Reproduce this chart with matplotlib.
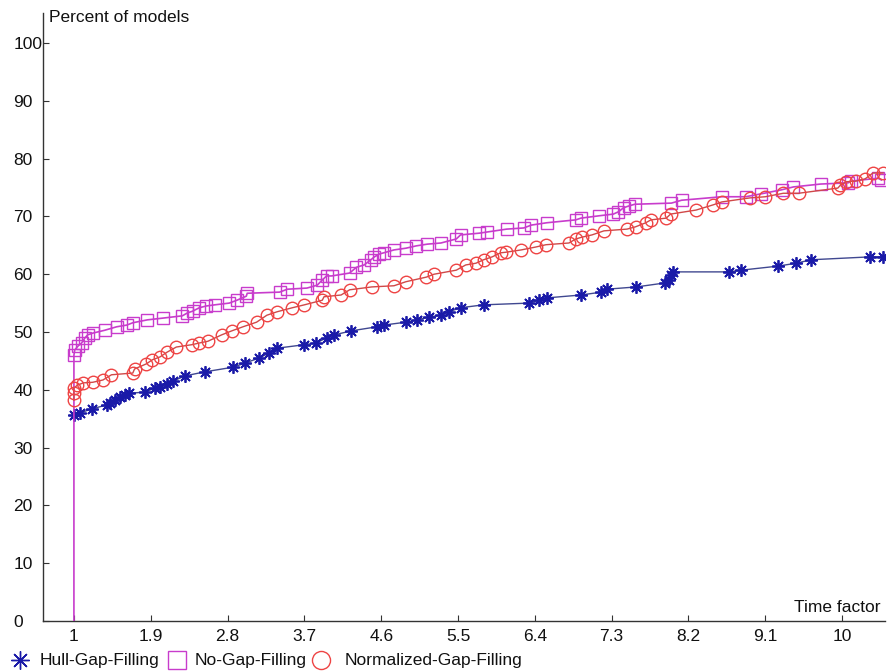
import matplotlib
matplotlib.use("Agg")
import matplotlib.pyplot as plt
from matplotlib.lines import Line2D

plt.rcParams['font.family'] = ['Liberation Sans', 'DejaVu Sans']

# ---- data ----
x_ticks = [1, 1.9, 2.8, 3.7, 4.6, 5.5, 6.4, 7.3, 8.2, 9.1, 10]
x_tick_labels = ["1", "1.9", "2.8", "3.7", "4.6", "5.5", "6.4", "7.3", "8.2", "9.1", "10"]
y_ticks = [0, 10, 20, 30, 40, 50, 60, 70, 80, 90, 100]

hull_x = [1.0, 1.07, 1.21, 1.39, 1.42, 1.48, 1.54, 1.60, 1.65, 1.83, 1.95, 2.01, 2.09, 2.16,
          2.30, 2.53, 2.86, 3.00, 3.17, 3.29, 3.38, 3.70, 3.84, 3.96, 4.05, 4.25, 4.55, 4.63,
          4.89, 5.02, 5.16, 5.30, 5.39, 5.53, 5.80, 6.33, 6.45, 6.54, 6.94, 7.18, 7.24, 7.59,
          7.93, 7.97, 8.00, 8.02, 8.67, 8.82, 9.25, 9.46, 9.64, 10.33, 10.48]
hull_y = [35.6, 36.0, 36.7, 37.4, 37.7, 38.2, 38.8, 39.1, 39.4, 39.6, 40.3, 40.5, 41.0, 41.5,
          42.4, 43.1, 43.9, 44.6, 45.5, 46.4, 47.2, 47.8, 48.1, 49.0, 49.5, 50.2, 50.9, 51.2,
          51.7, 52.1, 52.6, 52.9, 53.5, 54.2, 54.7, 55.0, 55.5, 55.9, 56.4, 56.9, 57.4, 57.8,
          58.5, 59.0, 59.9, 60.4, 60.4, 60.7, 61.4, 61.9, 62.5, 63.0, 63.0]

nogap_x = [1.0, 1.0, 1.01, 1.05, 1.09, 1.13, 1.16, 1.22, 1.36, 1.50, 1.62, 1.69, 1.86, 2.04,
           2.27, 2.33, 2.39, 2.47, 2.55, 2.65, 2.82, 2.91, 3.02, 3.03, 3.41, 3.50, 3.73, 3.85,
           3.91, 3.96, 4.02, 4.23, 4.31, 4.40, 4.48, 4.52, 4.58, 4.63, 4.75, 4.89, 5.01, 5.14,
           5.30, 5.48, 5.53, 5.75, 5.84, 6.07, 6.27, 6.36, 6.54, 6.88, 6.94, 7.15, 7.32, 7.38,
           7.44, 7.50, 7.57, 8.00, 8.12, 8.59, 8.87, 9.05, 9.29, 9.43, 9.75, 10.07, 10.10,
           10.42, 10.46]
nogap_y = [0.0, 46.0, 46.9, 47.6, 48.1, 49.0, 49.5, 49.8, 50.3, 50.9, 51.2, 51.6, 52.1, 52.4,
           52.8, 53.3, 53.6, 54.2, 54.5, 54.7, 55.0, 55.5, 56.2, 56.7, 56.9, 57.4, 57.6, 58.1,
           59.0, 59.7, 59.7, 60.2, 61.2, 61.6, 62.5, 63.0, 63.5, 63.7, 64.2, 64.5, 64.9, 65.2,
           65.4, 66.1, 66.8, 67.1, 67.3, 67.8, 68.0, 68.5, 68.9, 69.4, 69.7, 70.1, 70.4, 70.8,
           71.5, 71.8, 72.1, 72.3, 72.8, 73.4, 73.4, 73.9, 74.6, 75.1, 75.6, 75.8, 76.1,
           76.6, 76.3]

norm_x = [1.0, 1.0, 1.0, 1.04, 1.11, 1.22, 1.34, 1.44, 1.69, 1.71, 1.85, 1.92, 2.01, 2.09,
          2.20, 2.38, 2.47, 2.57, 2.73, 2.85, 2.98, 3.14, 3.26, 3.38, 3.56, 3.70, 3.91, 3.93,
          4.13, 4.23, 4.49, 4.75, 4.89, 5.13, 5.22, 5.48, 5.59, 5.71, 5.80, 5.90, 6.00, 6.06,
          6.24, 6.41, 6.53, 6.80, 6.88, 6.95, 7.07, 7.21, 7.48, 7.58, 7.70, 7.76, 7.94, 7.99,
          8.29, 8.49, 8.59, 8.92, 9.10, 9.31, 9.49, 9.95, 9.98, 10.05, 10.16, 10.27, 10.36,
          10.48]
norm_y = [38.2, 39.4, 40.3, 40.8, 41.2, 41.3, 41.7, 42.6, 42.9, 43.6, 44.5, 45.2, 45.7, 46.5,
          47.4, 47.8, 48.1, 48.4, 49.5, 50.2, 50.9, 51.7, 52.9, 53.5, 54.2, 54.7, 55.5, 56.1,
          56.4, 57.3, 57.8, 58.0, 58.7, 59.5, 60.0, 60.7, 61.6, 61.9, 62.5, 63.0, 63.7, 63.8,
          64.2, 64.7, 65.1, 65.4, 66.1, 66.4, 66.8, 67.5, 67.8, 68.2, 68.9, 69.4, 69.7, 70.4,
          71.1, 72.0, 72.5, 73.2, 73.4, 74.0, 74.0, 74.9, 75.4, 76.0, 76.1, 76.5, 77.5,
          77.5]

series_names = ["Hull-Gap-Filling", "No-Gap-Filling", "Normalized-Gap-Filling"]

# ---- styles ----
W, H = 889, 671
fig = plt.figure(figsize=(W / 100, H / 100), dpi=100)
fig.patch.set_facecolor("white")
ax = fig.add_axes([43 / W, (H - 621) / H, (885 - 43) / W, (621 - 13) / H])

blue_m = "#1a1aa8"
blue_l = "#404890"
mag = "#c83ccc"
red_m = "#ee4444"
red_l = "#d04848"
asterisk = (8, 2, 0)

ax.plot(hull_x, hull_y, color=blue_l, lw=1.0, marker=asterisk, ms=9, mec=blue_m, mew=1.3, zorder=3)
ax.plot(nogap_x, nogap_y, color=mag, lw=1.2, marker="s", ms=8.5, mfc="none", mec=mag, mew=1.0,
        markevery=slice(1, None), zorder=4)
ax.plot(norm_x, norm_y, color=red_l, lw=1.0, marker="o", ms=9, mfc="none", mec=red_m, mew=1.0,
        zorder=5)

ax.set_xlim(1 - 31 / 85.56, 10 + 43 / 85.56)
ax.set_ylim(0, 100 + 30 / 5.78)

for s in ["top", "right"]:
    ax.spines[s].set_visible(False)
for s in ["left", "bottom"]:
    ax.spines[s].set_color("#333333")
    ax.spines[s].set_linewidth(1.0)

ax.set_xticks(x_ticks)
ax.set_xticklabels(x_tick_labels)
ax.set_yticks(y_ticks)
ax.tick_params(axis="both", direction="in", length=4, width=0.8, color="#333333",
               labelsize=12.5, labelcolor="#111111")
ax.tick_params(axis="x", pad=6)
ax.tick_params(axis="y", pad=21.5)
for lab in ax.get_yticklabels():
    lab.set_horizontalalignment("left")

fig.text(49 / W, 1 - 17 / H, "Percent of models", fontsize=12.5, va="center", ha="left", color="#111111")
fig.text(880 / W, 1 - 607 / H, "Time factor", fontsize=12.5, va="center", ha="right", color="#111111")

# legend
ly = 1 - 660 / H
items = [(20, 40, asterisk, blue_m, series_names[0]),
         (177, 195, "s", mag, series_names[1]),
         (321, 345, "o", red_m, series_names[2])]
for mx, tx, mk, col, name in items:
    fig.add_artist(Line2D([mx / W], [ly], transform=fig.transFigure, marker=mk, ms=13,
                          mfc="none", mec=col, mew=1.0, ls="none"))
    fig.text(tx / W, ly, name, fontsize=12.5, va="center", ha="left", color="#111111")

fig.savefig("out.png", dpi=100, facecolor="white")
